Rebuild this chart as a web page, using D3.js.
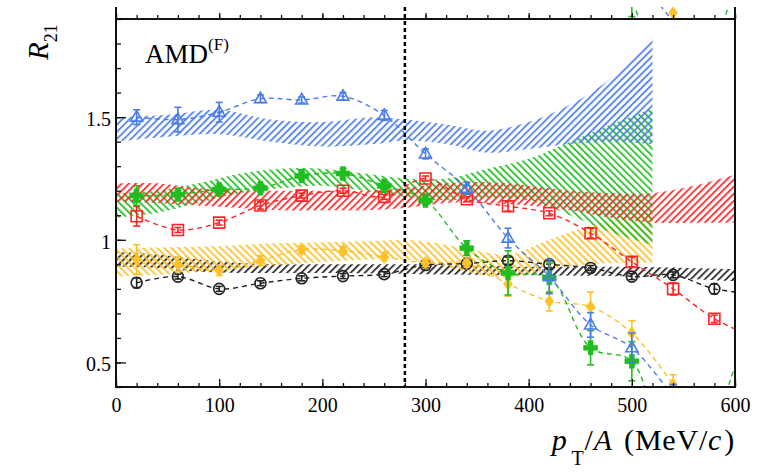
<!DOCTYPE html>
<html>
<head>
<meta charset="utf-8">
<script src="https://cdn.jsdelivr.net/npm/d3@7"></script>
<style>
  body { margin: 0; background: #fff; }
  text { font-family: "Liberation Serif", "Times New Roman", serif; fill: #000; }
</style>
</head>
<body>
<div id="plot"></div>
<script>
// pT/A bin centres (MeV/c)
let ptX = [20, 60, 100, 140, 180, 220, 260, 300, 340, 380, 420, 460, 500, 540, 580, 620]

// measured R21 points + stat errors
let blueR21   = [1.50, 1.49, 1.52, 1.575, 1.57, 1.585, 1.507, 1.35, 1.21, 1.007, 0.85, 0.653, 0.56, 0.36]
let blueErr   = [0.03, 0.05, 0.04, 0.015, 0.012, 0.015, 0.02, 0.02, 0.025, 0.04, 0.07, 0.05, 0.06, 0.05]
let greenR21  = [1.18, 1.185, 1.205, 1.21, 1.26, 1.27, 1.22, 1.16, 0.966, 0.865, 0.845, 0.56, 0.505, 0.10, 0.27, 0.80]
let greenErr  = [0.04, 0.015, 0.015, 0.015, 0.015, 0.02, 0.015, 0.015, 0.03, 0.09, 0.06, 0.07, 0.08, 0.1, 0.1, 0.1]
let redR21    = [1.096, 1.04, 1.07, 1.14, 1.18, 1.20, 1.175, 1.25, 1.165, 1.137, 1.108, 1.027, 0.91, 0.80, 0.678, 0.60]
let redErr    = [0.04, 0.01, 0.01, 0.015, 0.01, 0.01, 0.01, 0.01, 0.01, 0.02, 0.01, 0.02, 0.02, 0.025, 0.015, 0.02]
let orangeR21 = [0.92, 0.90, 0.875, 0.915, 0.96, 0.955, 0.93, 0.906, 0.905, 0.82, 0.75, 0.727, 0.62, 0.41]
let orangeErr = [0.06, 0.03, 0.02, 0.02, 0.015, 0.015, 0.015, 0.015, 0.015, 0.05, 0.04, 0.06, 0.05, 0.04]
let blackR21  = [0.825, 0.85, 0.80, 0.823, 0.843, 0.852, 0.86, 0.897, 0.903, 0.915, 0.90, 0.885, 0.85, 0.857, 0.80, 0.78]
let blackErr  = [0.02, 0.01, 0.01, 0.01, 0.01, 0.01, 0.01, 0.01, 0.01, 0.015, 0.015, 0.01, 0.012, 0.012, 0.02, 0.02]

// AMD model bands (hatched)
let blueBandX  = [0, 50, 100, 150, 200, 250, 280, 320, 360, 400, 440, 480, 520]
let blueBandLo = [1.40, 1.42, 1.43, 1.40, 1.38, 1.39, 1.405, 1.39, 1.355, 1.37, 1.39, 1.40, 1.39]
let blueBandHi = [1.50, 1.51, 1.53, 1.49, 1.48, 1.50, 1.49, 1.47, 1.445, 1.48, 1.55, 1.66, 1.83]
let greenBandX  = [0, 40, 80, 120, 160, 200, 240, 280, 320, 360, 400, 440, 480, 520]
let greenBandLo = [1.09, 1.11, 1.15, 1.19, 1.21, 1.22, 1.20, 1.175, 1.16, 1.17, 1.16, 1.10, 1.03, 0.98]
let greenBandHi = [1.19, 1.20, 1.23, 1.27, 1.29, 1.29, 1.27, 1.25, 1.25, 1.29, 1.33, 1.40, 1.47, 1.535]
let redBandX  = [0, 40, 80, 120, 160, 200, 240, 280, 320, 360, 400, 440, 480, 520, 560, 600]
let redBandLo = [1.155, 1.15, 1.14, 1.13, 1.12, 1.12, 1.12, 1.13, 1.15, 1.15, 1.14, 1.12, 1.09, 1.07, 1.07, 1.07]
let redBandHi = [1.23, 1.23, 1.21, 1.20, 1.20, 1.20, 1.20, 1.21, 1.23, 1.235, 1.22, 1.20, 1.19, 1.19, 1.22, 1.265]
let orangeBandX  = [0, 50, 100, 150, 200, 250, 280, 320, 350, 380, 420, 460, 490, 520]
let orangeBandLo = [0.85, 0.86, 0.875, 0.895, 0.91, 0.92, 0.92, 0.89, 0.86, 0.845, 0.88, 0.90, 0.905, 0.905]
let orangeBandHi = [0.965, 0.97, 0.975, 0.985, 0.99, 0.995, 1.0, 0.98, 0.955, 0.94, 1.00, 1.06, 1.09, 1.11]
let blackBandX  = [0, 40, 80, 120, 160, 200, 300, 400, 500, 600]
let blackBandLo = [0.89, 0.885, 0.87, 0.865, 0.865, 0.865, 0.86, 0.855, 0.85, 0.83]
let blackBandHi = [0.95, 0.94, 0.92, 0.905, 0.90, 0.90, 0.90, 0.89, 0.89, 0.88]

// bits of the panel above that poke into the picture
let upperGreenX = [460, 500, 540, 580, 620]
let upperGreenR21 = [0.75, 0.47, 0.10, 0.30, 0.90]
let upperGreenErr = [0.05, 0.06, 0.05, 0.05, 0.05]
let upperBlueX = [500, 540]
let upperBlueR21 = [0.60, 0.39]
let upperOrangeX = [540]
let upperOrangeR21 = [0.425]

let xTicks = [0, 100, 200, 300, 400, 500, 600]
let yTicks = [0.5, 1, 1.5]
let cutX = 280

let svgWidth = 775
let svgHeight = 473
let margin = { top: 19, right: 40, bottom: 86, left: 116 }
let plotRight = svgWidth - margin.right
let plotBottom = svgHeight - margin.bottom

let svg = d3.select("#plot").append("svg")
  .attr("width", svgWidth)
  .attr("height", svgHeight)

let x = d3.scaleLinear().domain([0, 600]).range([margin.left, plotRight])
let y = d3.scaleLinear().domain([0.4, 1.9]).range([plotBottom, margin.top])
let yUp = d3.scaleLinear().domain([0.4, 1.9]).range([margin.top, margin.top - (plotBottom - margin.top)])

let colors = { blue: "#4a7ceb", green: "#1fbd1f", red: "#ff2424", orange: "#ffc028", black: "#222" }

let defs = svg.append("defs")
defs.append("clipPath").attr("id", "clip").append("rect")
  .attr("x", margin.left).attr("y", margin.top)
  .attr("width", plotRight - margin.left).attr("height", plotBottom - margin.top)
defs.append("clipPath").attr("id", "clipUp").append("rect")
  .attr("x", margin.left).attr("y", 7)
  .attr("width", plotRight - margin.left).attr("height", margin.top - 7)

function hatch(id, color, angle) {
  let p = defs.append("pattern").attr("id", id)
    .attr("patternUnits", "userSpaceOnUse")
    .attr("width", 5).attr("height", 5)
    .attr("patternTransform", `rotate(${angle})`)
  p.append("rect").attr("x", 0).attr("y", 0).attr("width", 1.7).attr("height", 5)
    .attr("fill", color)
}
hatch("h-black", colors.black, 45)
hatch("h-orange", colors.orange, -45)
hatch("h-red", colors.red, 45)
hatch("h-green", colors.green, -45)
hatch("h-blue", colors.blue, 45)

let plot = svg.append("g").attr("clip-path", "url(#clip)")

let bands = [
  { xs: blackBandX, lo: blackBandLo, hi: blackBandHi, fill: "url(#h-black)" },
  { xs: orangeBandX, lo: orangeBandLo, hi: orangeBandHi, fill: "url(#h-orange)" },
  { xs: greenBandX, lo: greenBandLo, hi: greenBandHi, fill: "url(#h-green)" },
  { xs: redBandX, lo: redBandLo, hi: redBandHi, fill: "url(#h-red)" },
  { xs: blueBandX, lo: blueBandLo, hi: blueBandHi, fill: "url(#h-blue)" }
]

let area = d3.area()
  .x(d => x(d[0]))
  .y0(d => y(d[1]))
  .y1(d => y(d[2]))
  .curve(d3.curveCatmullRom)

bands.forEach(function(b) {
  let rows = b.xs.map((v, i) => [v, b.lo[i], b.hi[i]])
  plot.append("path").attr("d", area(rows)).attr("fill", b.fill)
})

// dotted cut line
svg.append("line")
  .attr("x1", x(cutX)).attr("x2", x(cutX))
  .attr("y1", 7).attr("y2", plotBottom)
  .attr("stroke", "#000").attr("stroke-width", 2.5)
  .attr("stroke-dasharray", "4,3")

let markers = {
  triangle: "M0,-6.5L6,4L-6,4Z",
  square: "M-5.5,-5.5H5.5V5.5H-5.5Z",
  circle: d3.symbol().type(d3.symbolCircle).size(Math.PI * 30)(),
  plus: "M-2.5,-7H2.5V-2.5H7V2.5H2.5V7H-2.5V2.5H-7V-2.5H-2.5Z",
  diamond: "M0,-6.5L4.5,0L0,6.5L-4.5,0Z"
}

let series = [
  { vals: blackR21, errs: blackErr, color: colors.black, mark: "circle", filled: false },
  { vals: orangeR21, errs: orangeErr, color: colors.orange, mark: "diamond", filled: true },
  { vals: redR21, errs: redErr, color: colors.red, mark: "square", filled: false },
  { vals: greenR21, errs: greenErr, color: colors.green, mark: "plus", filled: true },
  { vals: blueR21, errs: blueErr, color: colors.blue, mark: "triangle", filled: false }
]

let line = d3.line().x(d => x(d.x)).y(d => d.yScale(d.v)).curve(d3.curveCatmullRom)

function drawSeries(g, rows, s, yScale) {
  rows.forEach(r => r.yScale = yScale)
  g.append("path").attr("d", line(rows))
    .attr("fill", "none").attr("stroke", s.color)
    .attr("stroke-width", 1.4).attr("stroke-dasharray", "5,4")

  let bars = g.selectAll(null).data(rows.filter(r => r.e)).enter().append("g")
    .attr("stroke", s.color).attr("stroke-width", 1.6)
  bars.append("line")
    .attr("x1", d => x(d.x)).attr("x2", d => x(d.x))
    .attr("y1", d => yScale(d.v - d.e)).attr("y2", d => yScale(d.v + d.e))
  bars.append("line")
    .attr("x1", d => x(d.x) - 3.5).attr("x2", d => x(d.x) + 3.5)
    .attr("y1", d => yScale(d.v - d.e)).attr("y2", d => yScale(d.v - d.e))
  bars.append("line")
    .attr("x1", d => x(d.x) - 3.5).attr("x2", d => x(d.x) + 3.5)
    .attr("y1", d => yScale(d.v + d.e)).attr("y2", d => yScale(d.v + d.e))

  if (s.mark) {
    g.selectAll(null).data(rows).enter().append("path")
      .attr("d", markers[s.mark])
      .attr("transform", d => `translate(${x(d.x)},${yScale(d.v)})`)
      .attr("fill", s.filled ? s.color : "none")
      .attr("stroke", s.color)
      .attr("stroke-width", s.filled ? 0.5 : 1.6)
  }
}

series.forEach(function(s) {
  let rows = s.vals.map((v, i) => ({ x: ptX[i], v: v, e: s.errs[i] }))
  drawSeries(plot.append("g"), rows, s, y)
})

// upper panel stubs
let up = svg.append("g").attr("clip-path", "url(#clipUp)")
drawSeries(up.append("g"),
  upperGreenX.map((v, i) => ({ x: v, v: upperGreenR21[i], e: upperGreenErr[i] })),
  { color: colors.green, mark: null }, yUp)
drawSeries(up.append("g"),
  upperBlueX.map((v, i) => ({ x: v, v: upperBlueR21[i], e: 0 })),
  { color: colors.blue, mark: null }, yUp)
drawSeries(up.append("g"),
  upperOrangeX.map((v, i) => ({ x: v, v: upperOrangeR21[i], e: 0 })),
  { color: colors.orange, mark: "diamond", filled: true }, yUp)

// axes
let minorX = [0, 20, 40, 60, 80, 100, 120, 140, 160, 180, 200, 220, 240, 260, 280, 300,
  320, 340, 360, 380, 400, 420, 440, 460, 480, 500, 520, 540, 560, 580, 600]
let minorY = [0.4, 0.5, 0.6, 0.7, 0.8, 0.9, 1.0, 1.1, 1.2, 1.3, 1.4, 1.5, 1.6, 1.7, 1.8, 1.9]

function styleAxis(g) {
  g.select(".domain").remove()
  g.selectAll(".tick line").attr("stroke", "#111").attr("stroke-width", 1.3)
  g.attr("font-size", 20)
  g.selectAll("text").attr("fill", "#000")
    .style("font-family", '"Liberation Serif", "Times New Roman", serif')
}

svg.append("g").attr("transform", `translate(0,${plotBottom})`)
  .call(d3.axisBottom(x).tickValues(minorX).tickSize(-4).tickFormat(""))
  .call(styleAxis)
svg.append("g").attr("transform", `translate(0,${plotBottom})`)
  .call(d3.axisBottom(x).tickValues(xTicks).tickSize(-8).tickPadding(11).tickFormat(d3.format("d")))
  .call(styleAxis)

svg.append("g").attr("transform", `translate(0,${margin.top})`)
  .call(d3.axisTop(x).tickValues(minorX).tickSize(4).tickFormat(""))
  .call(styleAxis)
svg.append("g").attr("transform", `translate(0,${margin.top})`)
  .call(d3.axisTop(x).tickValues(xTicks).tickSize(6).tickFormat(""))
  .call(styleAxis)

svg.append("g").attr("transform", `translate(${margin.left},0)`)
  .call(d3.axisLeft(y).tickValues(minorY).tickSize(-5).tickFormat(""))
  .call(styleAxis)
svg.append("g").attr("transform", `translate(${margin.left},0)`)
  .call(d3.axisLeft(y).tickValues(yTicks).tickSize(-10).tickPadding(5).tickFormat(d3.format("")))
  .call(styleAxis)
  .selectAll("text").attr("dy", "0.42em")

// frame
let frame = svg.append("g").attr("stroke", "#111").attr("stroke-width", 2)
frame.append("line").attr("x1", margin.left).attr("x2", margin.left).attr("y1", 7).attr("y2", plotBottom + 1)
frame.append("line").attr("x1", plotRight).attr("x2", plotRight).attr("y1", 7).attr("y2", plotBottom + 1)
frame.append("line").attr("x1", margin.left).attr("x2", plotRight).attr("y1", margin.top).attr("y2", margin.top)
frame.append("line").attr("x1", margin.left).attr("x2", plotRight).attr("y1", plotBottom).attr("y2", plotBottom)

// labels
let amd = svg.append("text").attr("x", 145).attr("y", 63).attr("font-size", 27)
amd.append("tspan").text("AMD")
amd.append("tspan").attr("font-size", 17).attr("dy", -13).text("(F)")

let yTitle = svg.append("text")
  .attr("transform", "translate(48,60) rotate(-90)")
  .attr("font-size", 29)
yTitle.append("tspan").attr("font-style", "italic").text("R")
yTitle.append("tspan").attr("font-size", 18).attr("dy", 9).text("21")

let xTitle = svg.append("text")
  .attr("x", plotRight).attr("y", 450)
  .attr("text-anchor", "end").attr("font-size", 30)
  .attr("letter-spacing", 0.8)
xTitle.append("tspan").attr("font-style", "italic").text("p")
xTitle.append("tspan").attr("font-size", 20).attr("dx", 4).attr("dy", 15).text("T")
xTitle.append("tspan").attr("dy", -15).text("/")
xTitle.append("tspan").attr("font-style", "italic").text("A")
xTitle.append("tspan").attr("dx", 3).text(" (MeV/")
xTitle.append("tspan").attr("font-style", "italic").text("c")
xTitle.append("tspan").attr("dx", 2).text(")")
</script>
</body>
</html>
